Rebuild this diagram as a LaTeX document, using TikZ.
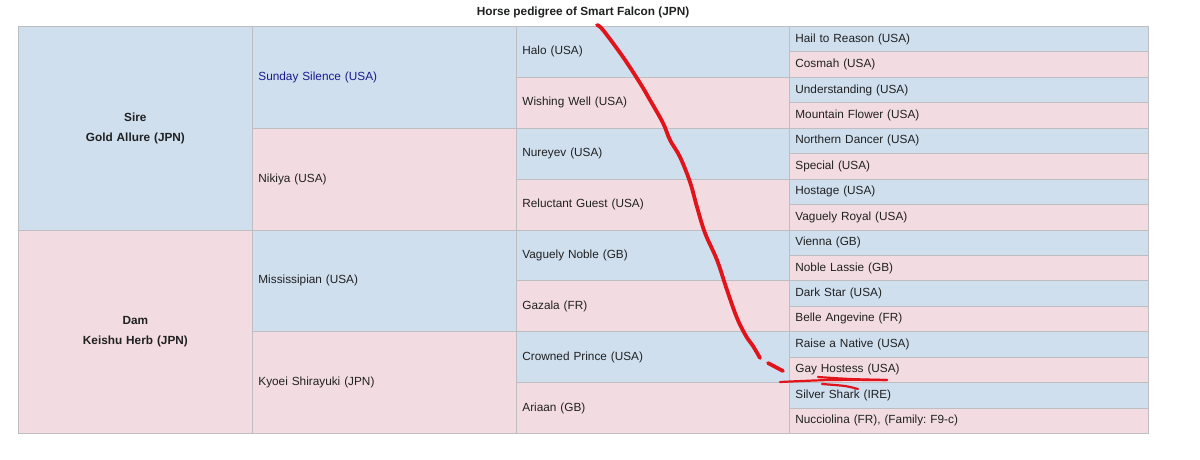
\documentclass[tikz,border=0pt]{standalone}
\usepackage{fontspec}
\setmainfont{Liberation Sans}
\frenchspacing
\definecolor{sireblue}{HTML}{CFDFEE}
\definecolor{dampink}{HTML}{F3DCE1}
\definecolor{gridgray}{HTML}{BDBDC2}
\definecolor{txt}{HTML}{202122}
\definecolor{linkblue}{HTML}{1A1A8C}
\definecolor{pen}{HTML}{E0141A}
\newcommand\pedcell[8]{%
  \node[pcell, fill=#6, minimum width=#4pt, text width=#7pt, minimum height=#5*25.4375pt] (#1) at (#2, 26+#3*25.4375) {#8};}
\tikzset{
  pcell/.style={draw=gridgray, line width=0.8pt, anchor=north west, inner xsep=6pt, inner ysep=0pt,
    font=\fontsize{11.8}{20}\selectfont, text=txt, align=left},
  parent/.style={pcell, align=center, font=\fontsize{11.8}{20}\selectfont\bfseries, minimum width=234pt, text width=222pt, minimum height=8*25.4375pt},
  pen/.style={draw=pen, line width=3.8pt, line cap=round, line join=round},
  thinpen/.style={draw=pen, line width=2.2pt, line cap=round, line join=round}
}
\begin{document}
\begin{tikzpicture}[x=1pt,y=-1pt]
\useasboundingbox (0,0) rectangle (1200,459);
\node[font=\fontsize{11.8}{14}\selectfont\bfseries, text=txt] (title) at (583,12.5) {Horse pedigree of Smart Falcon (JPN)};
% column 1
\node[parent, fill=sireblue] (sire) at (18,26) {Sire\\Gold Allure (JPN)};
\node[parent, fill=dampink] (dam) at (18,26+8*25.4375) {Dam\\Keishu Herb (JPN)};
% column 2
\pedcell{ss}{252}{0}{264}{4}{sireblue}{252}{\textcolor{linkblue}{Sunday Silence (USA)}}
\pedcell{nik}{252}{4}{264}{4}{dampink}{252}{Nikiya (USA)}
\pedcell{mis}{252}{8}{264}{4}{sireblue}{252}{Mississipian (USA)}
\pedcell{kyo}{252}{12}{264}{4}{dampink}{252}{Kyoei Shirayuki (JPN)}
% column 3
\pedcell{halo}{516}{0}{273}{2}{sireblue}{261}{Halo (USA)}
\pedcell{ww}{516}{2}{273}{2}{dampink}{261}{Wishing Well (USA)}
\pedcell{nur}{516}{4}{273}{2}{sireblue}{261}{Nureyev (USA)}
\pedcell{rg}{516}{6}{273}{2}{dampink}{261}{Reluctant Guest (USA)}
\pedcell{vn}{516}{8}{273}{2}{sireblue}{261}{Vaguely Noble (GB)}
\pedcell{gaz}{516}{10}{273}{2}{dampink}{261}{Gazala (FR)}
\pedcell{cp}{516}{12}{273}{2}{sireblue}{261}{Crowned Prince (USA)}
\pedcell{ari}{516}{14}{273}{2}{dampink}{261}{Ariaan (GB)}
% column 4
\pedcell{htr}{789}{0}{359}{1}{sireblue}{347}{Hail to Reason (USA)}
\pedcell{cos}{789}{1}{359}{1}{dampink}{347}{Cosmah (USA)}
\pedcell{und}{789}{2}{359}{1}{sireblue}{347}{Understanding (USA)}
\pedcell{mf}{789}{3}{359}{1}{dampink}{347}{Mountain Flower (USA)}
\pedcell{nd}{789}{4}{359}{1}{sireblue}{347}{Northern Dancer (USA)}
\pedcell{spe}{789}{5}{359}{1}{dampink}{347}{Special (USA)}
\pedcell{hos}{789}{6}{359}{1}{sireblue}{347}{Hostage (USA)}
\pedcell{vr}{789}{7}{359}{1}{dampink}{347}{Vaguely Royal (USA)}
\pedcell{vie}{789}{8}{359}{1}{sireblue}{347}{Vienna (GB)}
\pedcell{nl}{789}{9}{359}{1}{dampink}{347}{Noble Lassie (GB)}
\pedcell{ds}{789}{10}{359}{1}{sireblue}{347}{Dark Star (USA)}
\pedcell{ba}{789}{11}{359}{1}{dampink}{347}{Belle Angevine (FR)}
\pedcell{ran}{789}{12}{359}{1}{sireblue}{347}{Raise a Native (USA)}
\pedcell{gh}{789}{13}{359}{1}{dampink}{347}{Gay Hostess (USA)}
\pedcell{ssh}{789}{14}{359}{1}{sireblue}{347}{Silver Shark (IRE)}
\pedcell{nuc}{789}{15}{359}{1}{dampink}{347}{Nucciolina (FR), (Family: F9-c)}
% hand-drawn red annotation
\draw[pen] plot[smooth, tension=0.6] coordinates {(597,25) (603,30) (623,57) (640,83) (650,100) (663,123) (670,140) (680,157) (690,182) (697,207) (705,233) (717,260) (727,290) (737,318) (746,336) (753,346) (760,358)};
\draw[pen] (768,363) -- (783,371);
\draw[thinpen] plot[smooth, tension=0.5] coordinates {(780,382) (830,380) (887,380)};
\draw[thinpen] plot[smooth, tension=0.5] coordinates {(818,377) (850,379) (887,380)};
\draw[thinpen] plot[smooth, tension=0.5] coordinates {(822,384) (845,386) (858,389)};
\end{tikzpicture}
\end{document}
